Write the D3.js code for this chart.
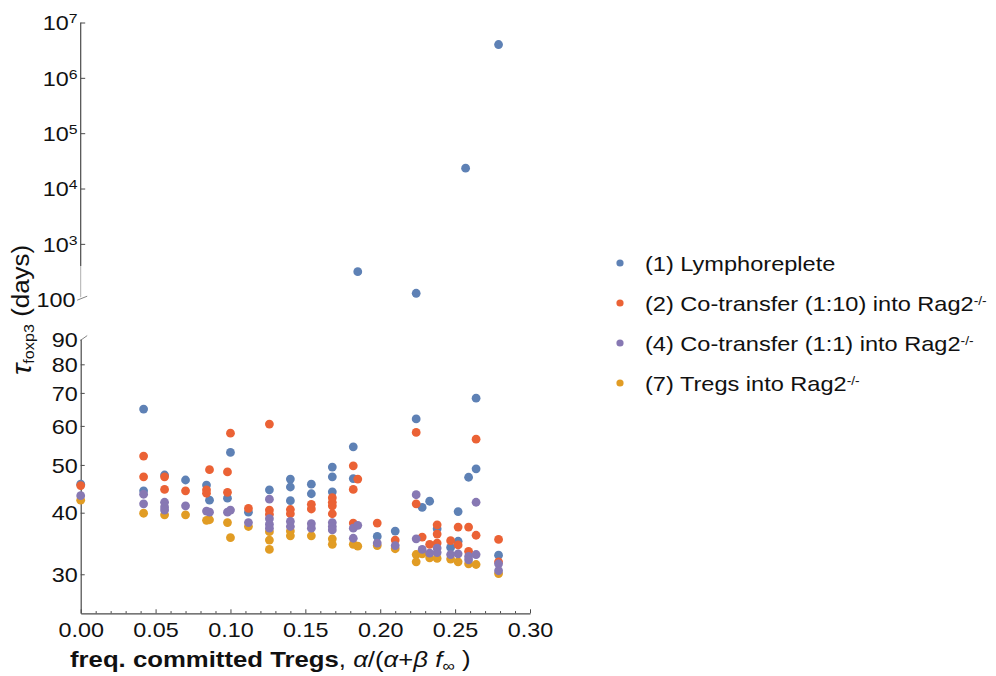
<!DOCTYPE html>
<html><head><meta charset="utf-8">
<script src="https://cdn.jsdelivr.net/npm/d3@7"></script>
<style>
body{margin:0;background:#fff}
svg{display:block}
text{font-family:"Liberation Sans",Arial,Helvetica,sans-serif;fill:#111}
</style>
</head><body><svg id="chart" width="996" height="676"></svg>
<script>
// ---------- data ----------
const seriesNames = ["(1) Lymphoreplete", "(2) Co-transfer (1:10) into Rag2", "(4) Co-transfer (1:1) into Rag2", "(7) Tregs into Rag2"];
const seriesSup = ["", "-/-", "-/-", "-/-"];
const seriesColors = ["#5E81B5", "#EB6235", "#8778B3", "#E19C24"];

const xMajorTicks = [0, 0.05, 0.10, 0.15, 0.20, 0.25, 0.30];
const xMinorTicks = [0.01,0.02,0.03,0.04,0.06,0.07,0.08,0.09,0.11,0.12,0.13,0.14,0.16,0.17,0.18,0.19,0.21,0.22,0.23,0.24,0.26,0.27,0.28,0.29];
const lowerTicks = [30, 40, 50, 60, 70, 80, 90];
const upperTicks = [100, 1e3, 1e4, 1e5, 1e6, 1e7];

const lymphX = [0, 0.042,0.042, 0.056, 0.070, 0.084,0.086, 0.098,0.100, 0.112, 0.126, 0.140,0.140,0.140, 0.154,0.154, 0.168,0.168,0.168, 0.182,0.182, 0.185, 0.198, 0.210, 0.224,0.224, 0.228, 0.233, 0.238, 0.247, 0.252,0.252, 0.257, 0.259, 0.264,0.264, 0.279,0.279];
const lymphY = [45.7, 64.9,44.3, 47.7, 46.6, 45.5,42.4, 42.8,53.0, 40.1, 44.5, 46.8,45.1,42.3, 45.7,43.7, 49.5,47.3,44.1, 54.4,46.9, 314, 35.8, 36.7, 62.0,128, 41.0, 42.2, 37.1, 34.0, 40.2,35.0, 23300, 47.2, 68.3,49.1, 32.8,4.0e6];

const co10X = [0, 0.042,0.042, 0.056,0.056, 0.070, 0.084,0.084,0.086, 0.098,0.098,0.100, 0.112, 0.126,0.126,0.126, 0.140,0.140, 0.154,0.154, 0.168,0.168,0.168,0.168, 0.182,0.182,0.182, 0.185, 0.198, 0.210, 0.224,0.224, 0.228, 0.233, 0.238,0.238,0.238, 0.247, 0.252,0.252, 0.259,0.259, 0.264,0.264, 0.279,0.279];
const co10Y = [45.4, 52.1,47.3, 47.3,44.6, 44.3, 44.5,43.8,48.9, 48.4,44.0,58.0, 40.8, 60.5,40.5,39.7, 40.6,39.8, 41.6,40.7, 42.9,42.0,41.3,39.8, 49.8,44.6,38.1, 46.8, 38.1, 35.2, 58.2,41.7, 35.7, 34.5, 37.8,36.2,34.7, 35.1, 37.4,34.4, 37.4,33.4, 56.4,36.0, 35.3,31.8];

const co1X = [0, 0.042,0.042, 0.056,0.056,0.056, 0.070, 0.084,0.086, 0.098,0.100, 0.112, 0.126,0.126,0.126,0.126, 0.140,0.140, 0.154,0.154, 0.168,0.168,0.168, 0.182,0.182, 0.185, 0.198, 0.210, 0.224,0.224, 0.228, 0.233, 0.238,0.238, 0.247, 0.252, 0.259,0.259, 0.264,0.264, 0.279,0.279];
const co1Y = [43.3, 43.6,41.7, 42.0,41.1,40.5, 41.3, 40.3,40.1, 40.1,40.5, 38.2, 42.6,38.9,37.9,37.2, 38.4,37.5, 38.0,37.2, 38.2,37.5,36.9, 37.2,35.5, 37.7, 34.7, 34.3, 43.5,35.4, 33.7, 33.1, 33.9,33.2, 32.9, 33.0, 32.6,32.1, 42.0,32.9, 31.5,30.5];

const tregX = [0, 0.042, 0.056, 0.070, 0.084,0.086, 0.098,0.100, 0.112, 0.126,0.126,0.126, 0.140,0.140, 0.154, 0.168,0.168, 0.182, 0.185, 0.198, 0.210, 0.224,0.224, 0.228, 0.233, 0.238, 0.247, 0.252, 0.259, 0.264, 0.279];
const tregY = [42.4, 39.9, 39.6, 39.6, 38.6,38.7, 38.2,35.6, 37.5, 36.6,35.2,33.7, 36.7,35.9, 35.9, 35.4,34.5, 34.5, 34.2, 34.3, 33.8, 32.9,31.8, 33.0, 32.4, 32.3, 32.2, 31.8, 31.5, 31.4, 30.1];

const seriesX = [lymphX, co10X, co1X, tregX];
const seriesY = [lymphY, co10Y, co1Y, tregY];
const drawOrder = [0, 1, 3, 2];

// ---------- layout ----------
const svg = d3.select("#chart");
const SX = 1.17; // horizontal text stretch
const axisColor = "#4a4a4a";
const tickFont = "20px";

const x = d3.scaleLinear().domain([0, 0.30]).range([80.7, 530]);
const yLow = d3.scaleLog().domain([25, 90]).range([613.3, 339.1]);
const yHigh = d3.scaleLog().domain([100, 1e7]).range([299.2, 22.5]);
const yOf = v => v >= 95 ? yHigh(v) : yLow(v);

// X axis
const gx = svg.append("g").attr("transform", `translate(0,${yLow.range()[0]})`)
  .call(d3.axisBottom(x).tickValues(xMajorTicks).tickSize(-4).tickSizeOuter(0).tickFormat(d3.format(".2f")));
gx.select(".domain").attr("stroke", axisColor).attr("stroke-width", 1.2);
gx.selectAll(".tick line").attr("stroke", axisColor);
gx.selectAll(".tick text").attr("y", 24).attr("dy", 0)
  .attr("transform", `scale(${SX},1)`).style("font-size", tickFont).attr("fill", "#111");
const gxm = svg.append("g").attr("transform", `translate(0,${yLow.range()[0]})`)
  .call(d3.axisBottom(x).tickValues(xMinorTicks).tickSize(-2.2).tickFormat(""));
gxm.select(".domain").remove();
gxm.selectAll(".tick line").attr("stroke", axisColor);

// Lower Y axis
const gyl = svg.append("g").attr("transform", `translate(${x.range()[0]},0)`)
  .call(d3.axisLeft(yLow).tickValues(lowerTicks).tickSize(-4).tickSizeOuter(0).tickFormat(d3.format("d")));
gyl.select(".domain").attr("stroke", axisColor).attr("stroke-width", 1.2);
gyl.selectAll(".tick line").attr("stroke", axisColor).filter(d => d === 90).remove();
gyl.selectAll(".tick text").attr("x", -2.6).attr("dy", "0.36em")
  .attr("transform", `scale(${SX},1)`).style("font-size", tickFont).attr("fill", "#111");

// Upper Y axis
const gyu = svg.append("g").attr("transform", `translate(${x.range()[0]},0)`)
  .call(d3.axisLeft(yHigh).tickValues(upperTicks).tickSize(-4.5).tickSizeOuter(0).tickFormat(""));
gyu.select(".domain").remove();
gyu.selectAll(".tick line").attr("stroke", axisColor).filter(d => d === 100).remove();
gyu.selectAll(".tick text").each(function(d){
  const t = d3.select(this).attr("x", d === 100 ? -4.5 : -2.6).attr("dy", "0.36em")
    .attr("transform", `scale(${SX},1)`).style("font-size", tickFont).attr("fill", "#111");
  if (d === 100) { t.text("100"); }
  else {
    t.append("tspan").text("10");
    t.append("tspan").attr("dy", "-0.5em").style("font-size", "13.5px").text(String(Math.round(Math.log10(d))));
  }
});
// upper axis spine (dark then faded toward the break)
const x0 = x.range()[0];
svg.append("line").attr("x1", x0).attr("x2", x0).attr("y1", yHigh(1e7)).attr("y2", yHigh(400))
  .attr("stroke", axisColor).attr("stroke-width", 1.2);
svg.append("line").attr("x1", x0).attr("x2", x0).attr("y1", yHigh(400)).attr("y2", yHigh(100) - 2)
  .attr("stroke", "#9a9a9a").attr("stroke-width", 0.8);
// break marks
svg.append("line").attr("x1", x0 - 3.5).attr("y1", yHigh(100) + 1).attr("x2", x0 + 6.5).attr("y2", yHigh(100) - 3)
  .attr("stroke", "#777").attr("stroke-width", 0.9);
svg.append("line").attr("x1", x0 - 0.5).attr("y1", yLow(90) + 1.5).attr("x2", x0 + 6.5).attr("y2", yLow(90) - 3.5)
  .attr("stroke", "#777").attr("stroke-width", 0.9);

// ---------- points ----------
const pts = svg.append("g");
drawOrder.forEach(si => {
  const data = seriesX[si].map((xv, i) => [xv, seriesY[si][i]]);
  pts.selectAll(null).data(data).enter().append("circle")
    .attr("cx", d => x(d[0])).attr("cy", d => yOf(d[1])).attr("r", 4.4)
    .attr("fill", seriesColors[si]);
});

// ---------- legend ----------
const legY = d3.scaleLinear().domain([0, 3]).range([270.5, 390.5]);
const leg = svg.append("g");
seriesNames.forEach((name, i) => {
  leg.append("circle").attr("cx", 620).attr("cy", legY(i) - 7.5).attr("r", 3.6).attr("fill", seriesColors[i]);
  const t = leg.append("text").attr("transform", `translate(645,${legY(i)}) scale(1.15,1)`)
    .style("font-size", "20.5px");
  t.append("tspan").text(name);
  if (seriesSup[i]) t.append("tspan").attr("dy", "-0.5em").style("font-size", "12px").text(seriesSup[i]);
});

// ---------- axis titles ----------
const xt = svg.append("text").attr("transform", `translate(70,667.3) scale(1.17,1)`).style("font-size", "22px");
xt.append("tspan").style("font-weight", "bold").text("freq. committed Tregs");
xt.append("tspan").text(", ");
xt.append("tspan").style("font-style", "italic").text("α");
xt.append("tspan").text("/(");
xt.append("tspan").style("font-style", "italic").text("α");
xt.append("tspan").text("+");
xt.append("tspan").style("font-style", "italic").text("β ");
xt.append("tspan").style("font-style", "italic").text("f");
xt.append("tspan").attr("dy", "0.25em").style("font-size", "15px").text("∞");
xt.append("tspan").attr("dy", "-0.25em").text(" )");

const yt = svg.append("text").attr("transform", `translate(31,375) rotate(-90) scale(1.08,1)`).style("font-size", "24px");
yt.append("tspan").style("font-style", "italic").style("font-size", "28px").text("τ");
yt.append("tspan").attr("dy", "0.22em").style("font-size", "15px").text("foxp3");
yt.append("tspan").attr("dy", "-0.22em").text(" (days)");
</script>
</body></html>
